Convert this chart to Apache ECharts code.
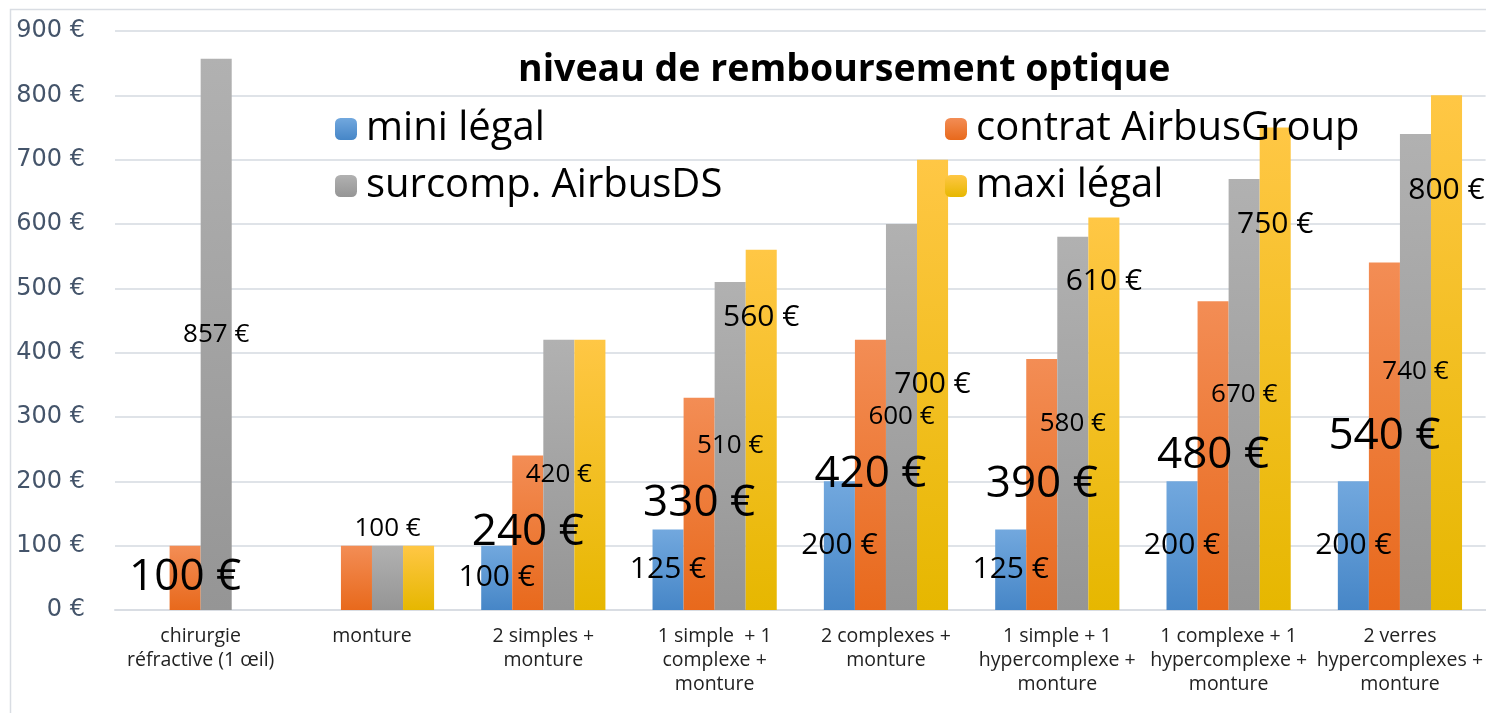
<!DOCTYPE html>
<html>
<head>
<meta charset="utf-8">
<script src="https://cdn.jsdelivr.net/npm/echarts@6/dist/echarts.min.js"></script>
<style>
html,body{margin:0;padding:0;background:#fff;}
#chart{width:1486px;height:713px;}
</style>
</head>
<body>
<div id="chart"></div>
<script>
const categories = [
  "chirurgie\nréfractive (1 œil)",
  "monture",
  "2 simples +\nmonture",
  "1 simple  + 1\ncomplexe +\nmonture",
  "2 complexes +\nmonture",
  "1 simple + 1\nhypercomplexe +\nmonture",
  "1 complexe + 1\nhypercomplexe +\nmonture",
  "2 verres\nhypercomplexes +\nmonture"
];
const seriesNames = ["mini légal", "contrat AirbusGroup", "surcomp. AirbusDS", "maxi légal"];
const miniLegal = [null, null, 100, 125, 200, 125, 200, 200];
const contratAirbusGroup = [100, 100, 240, 330, 420, 390, 480, 540];
const surcompAirbusDS = [857, 100, 420, 510, 600, 580, 670, 740];
const maxiLegal = [null, 100, 420, 560, 700, 610, 750, 800];
const yTicks = [0, 100, 200, 300, 400, 500, 600, 700, 800, 900];

const chart = echarts.init(document.getElementById('chart'));
const FONT = "'Open Sans', 'Noto Sans', sans-serif";

function grad(top, bottom) {
  return new echarts.graphic.LinearGradient(0, 0, 0, 1, [
    {offset: 0, color: top}, {offset: 1, color: bottom}
  ]);
}

const labelStyles = [
  {fontSize: 30},
  {fontSize: 44},
  {fontSize: 26},
  {fontSize: 30}
];
// labels removed in the reference: [seriesIndex-categoryIndex]
const hiddenLabels = {"1-1": true, "3-1": true, "3-2": true};
// labels placed at top of bar
const topLabels = {"2-1": true};
// yellow labels moved upward in the reference (pixel offsets)
const labelShift = {"3-3": -112, "3-5": -132, "3-6": -144, "3-7": -162};

const valueArrays = [miniLegal, contratAirbusGroup, surcompAirbusDS, maxiLegal];
const colors = [
  ['#72a8de', '#4686c7'],
  ['#f38d55', '#e8691c'],
  ['#b1b1b1', '#959595'],
  ['#ffc745', '#e6b700']
];

const series = valueArrays.map((arr, si) => ({
  name: seriesNames[si],
  type: 'bar',
  barGap: '0%',
  barCategoryGap: '27.5%',
  itemStyle: {color: grad(colors[si][0], colors[si][1])},
  label: {
    show: true,
    position: 'inside',
    color: '#000',
    fontFamily: FONT,
    fontSize: labelStyles[si].fontSize,
    formatter: p => p.value + ' €'
  },
  data: arr.map((v, ci) => {
    const key = si + '-' + ci;
    const item = {value: v};
    if (hiddenLabels[key]) item.label = {show: false};
    else if (topLabels[key]) item.label = {position: 'top', distance: 4};
    else if (labelShift[key]) item.label = {offset: [0, labelShift[key]]};
    return item;
  })
}));

const legendText = {fontFamily: FONT, fontSize: 40, color: '#000', lineHeight: 40, padding: [0, 0, 0, 4]};

const option = {
  backgroundColor: '#fff',
  animation: false,
  title: {
    text: 'niveau de remboursement optique',
    left: 513,
    top: 46,
    textStyle: {fontFamily: FONT, fontWeight: 'bold', fontSize: 37.5, color: '#000'}
  },
  legend: [
    {
      data: [seriesNames[0], seriesNames[2]],
      orient: 'vertical',
      left: 330, top: 104,
      itemWidth: 22, itemHeight: 22, itemGap: 17,
      textStyle: legendText
    },
    {
      data: [seriesNames[1], seriesNames[3]],
      orient: 'vertical',
      left: 940, top: 104,
      itemWidth: 22, itemHeight: 22, itemGap: 17,
      textStyle: legendText
    }
  ],
  graphic: [{
    type: 'rect',
    shape: {x: 10.5, y: 9.5, width: 1500, height: 720},
    style: {fill: null, stroke: '#d9dde3', lineWidth: 1.5},
    silent: true,
    z: -1
  }],
  grid: {left: 115, right: 0, top: 31, height: 579, containLabel: false},
  xAxis: {
    type: 'category',
    data: categories,
    axisLine: {show: true, lineStyle: {color: '#d9dde3', width: 2}},
    axisTick: {show: false},
    axisLabel: {interval: 0, color: '#222', fontFamily: FONT, fontSize: 19.5, lineHeight: 24, margin: 14}
  },
  yAxis: {
    type: 'value',
    min: yTicks[0],
    max: yTicks[yTicks.length - 1],
    interval: 100,
    axisLine: {show: false},
    axisTick: {show: false},
    splitLine: {lineStyle: {color: '#dfe3e8', width: 2}},
    axisLabel: {
      color: '#44546a', fontFamily: "'DejaVu Sans', sans-serif", fontSize: 24, margin: 30,
      formatter: v => v + ' €'
    }
  },
  series: series
};
chart.setOption(option);
</script>
</body>
</html>
